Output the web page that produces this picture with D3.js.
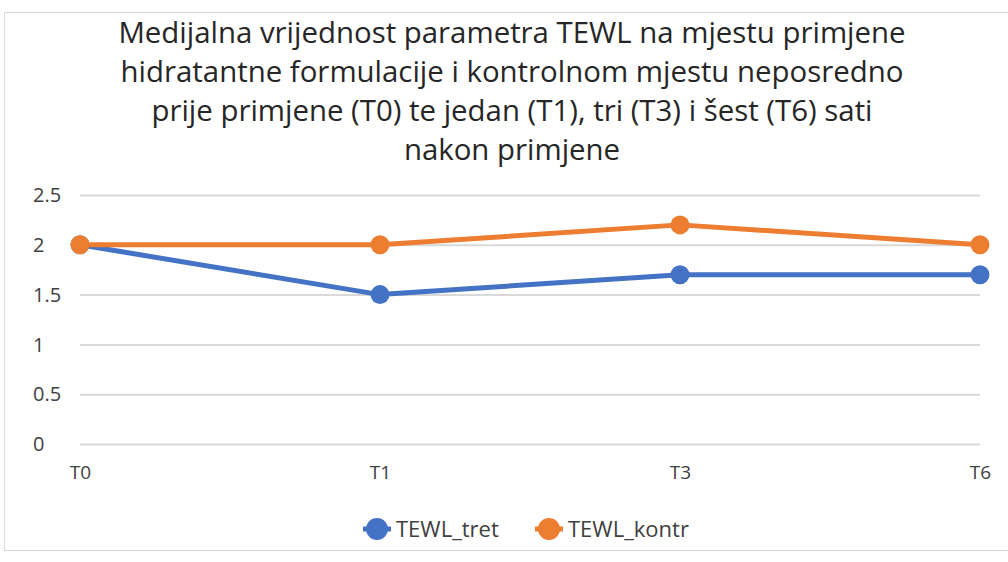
<!DOCTYPE html>
<html>
<head>
<meta charset="utf-8">
<script src="https://cdn.jsdelivr.net/npm/d3@7"></script>
<style>
  body { margin: 0; background: #fff; }
  svg { display: block; }
</style>
</head>
<body>
<div id="chart"></div>
<script>
var categories = ["T0", "T1", "T3", "T6"];
var tewlTret = [2, 1.5, 1.7, 1.7];
var tewlKontr = [2, 2, 2.2, 2];
var yTicks = [0, 0.5, 1, 1.5, 2, 2.5];
var titleLines = [
    "Medijalna vrijednost parametra TEWL na mjestu primjene",
    "hidratantne formulacije i kontrolnom mjestu neposredno",
    "prije primjene (T0) te jedan (T1), tri (T3) i šest (T6) sati",
    "nakon primjene"
];
var seriesNames = ["TEWL_tret", "TEWL_kontr"];
var colors = ["#4472C4", "#ED7D31"];

var width = 1008;
var height = 562;
var margin = { top: 195, left: 80, bottom: 118, right: 28 };

var svg = d3.select("#chart")
            .append("svg")
            .attr("width", width)
            .attr("height", height);

// chart area border
svg.append("rect")
    .attr("x", 4.5)
    .attr("y", 12.5)
    .attr("width", 1020)
    .attr("height", 538)
    .attr("fill", "none")
    .attr("stroke", "#d9d9d9");

var x = d3.scalePoint()
          .domain(categories)
          .range([margin.left, width - margin.right]);

var y = d3.scaleLinear()
          .domain([0, 2.5])
          .range([height - margin.bottom, margin.top]);

// gridlines
svg.append("g")
    .attr("transform", "translate(" + margin.left + ",0)")
    .call(d3.axisRight(y).tickValues(yTicks).tickSize(width - margin.left - margin.right).tickFormat(""))
    .call(function (g) {
        g.select(".domain").remove();
        g.selectAll("line").attr("stroke", "#d9d9d9").attr("stroke-width", 2);
    });

// y labels (left-aligned)
svg.append("g")
    .selectAll("text")
    .data(yTicks)
    .enter()
    .append("text")
    .attr("x", 33)
    .attr("y", function (d) { return y(d); })
    .attr("dy", "0.36em")
    .style("font-family", "'Open Sans', 'Noto Sans', sans-serif")
    .style("font-size", "20px")
    .style("fill", "#404040")
    .text(function (d) { return d; });

// x labels
svg.append("g")
    .attr("transform", "translate(0," + (height - margin.bottom) + ")")
    .call(d3.axisBottom(x).tickSize(0).tickPadding(22))
    .call(function (g) {
        g.select(".domain").remove();
        g.selectAll("text")
            .style("font-family", "'Open Sans', sans-serif")
            .style("font-size", "19px")
            .style("fill", "#404040");
    });

var line = d3.line()
             .x(function (d, i) { return x(categories[i]); })
             .y(function (d) { return y(d); });

[tewlTret, tewlKontr].forEach(function (vals, k) {
    svg.append("path")
        .datum(vals)
        .attr("fill", "none")
        .attr("stroke", colors[k])
        .attr("stroke-width", 5)
        .attr("stroke-linejoin", "round")
        .attr("d", line);

    svg.append("g")
        .selectAll("circle")
        .data(vals)
        .enter()
        .append("circle")
        .attr("cx", function (d, i) { return x(categories[i]); })
        .attr("cy", function (d) { return y(d); })
        .attr("r", 9.5)
        .attr("fill", colors[k]);
});

// title
svg.append("g")
    .selectAll("text")
    .data(titleLines)
    .enter()
    .append("text")
    .attr("x", 512)
    .attr("y", function (d, i) { return 43 + i * 39; })
    .style("text-anchor", "middle")
    .style("font-family", "'Open Sans', sans-serif")
    .style("font-size", "29.4px")
    .style("fill", "#262626")
    .text(function (d) { return d; });

// legend
var legendX = [377, 549];
var legend = svg.append("g")
    .selectAll("g")
    .data(seriesNames)
    .enter()
    .append("g")
    .attr("transform", function (d, i) { return "translate(" + legendX[i] + ",529)"; });

legend.append("line")
    .attr("x1", -14).attr("x2", 14)
    .attr("stroke", function (d, i) { return colors[i]; })
    .attr("stroke-width", 5);

legend.append("circle")
    .attr("r", 11)
    .attr("fill", function (d, i) { return colors[i]; });

legend.append("text")
    .attr("x", 19)
    .attr("dy", "0.36em")
    .style("font-family", "'Open Sans', sans-serif")
    .style("font-size", "22px")
    .style("fill", "#404040")
    .text(function (d) { return d; });
</script>
</body>
</html>
